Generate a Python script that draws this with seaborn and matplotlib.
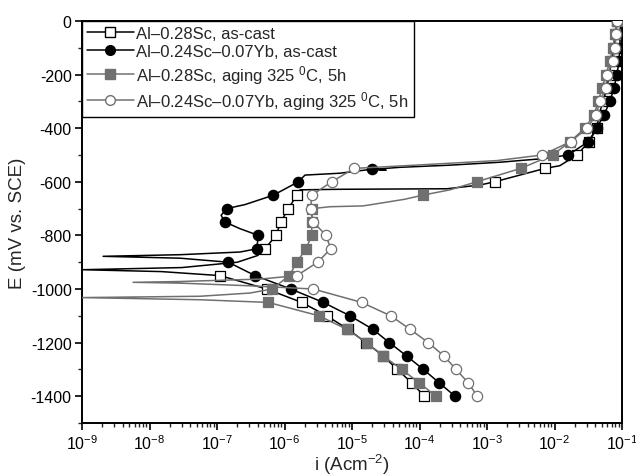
import matplotlib
matplotlib.use("Agg")
import matplotlib.pyplot as plt
from matplotlib.lines import Line2D
from matplotlib.ticker import LogLocator, MultipleLocator, NullFormatter
import pandas as pd
import seaborn as sns

# curvas de polarizacion: i (A/cm2), E (mV vs SCE), m = 1 si lleva marcador
# Al-0.28Sc, as-cast
i_s1 = [1.18e-4, 7.66e-5, 4.69e-5, 2.91e-5, 1.61e-5, 8.73e-6, 4.22e-6, 1.80e-6, 5.45e-7, 1.11e-7,
        1.5e-8, 1.0e-9, 3.0e-8, 2.0e-7, 4.0e-7, 5.14e-7, 7.48e-7, 8.79e-7, 1.14e-6, 1.52e-6,
        1.70e-6, 6.64e-6, 2.55e-4, 7.87e-4, 1.3e-3, 7.23e-3, 1.2e-2, 2.15e-2, 3.25e-2, 4.25e-2,
        4.56e-2, 5.24e-2, 6.0e-2, 6.4e-2, 7.1e-2, 7.6e-2, 8.15e-2, 8.3e-2]
E_s1 = [-1400, -1350, -1300, -1250, -1200, -1150, -1100, -1050, -1000, -950,
        -935, -928, -920, -900, -875, -850, -800, -750, -700, -650,
        -630, -628, -626, -612, -600, -550, -540, -500, -450, -400,
        -350, -300, -250, -200, -150, -100, -50, 0]
m_s1 = [1, 1, 1, 1, 1, 1, 1, 1, 1, 1,
        0, 0, 0, 0, 0, 1, 1, 1, 1, 1,
        0, 0, 0, 0, 1, 1, 0, 1, 1, 1,
        1, 1, 1, 1, 1, 1, 1, 1]

# Al-0.24Sc-0.07Yb, as-cast
i_s2 = [3.36e-4, 1.96e-4, 1.14e-4, 6.46e-5, 3.57e-5, 2.03e-5, 9.33e-6, 3.76e-6, 1.24e-6, 3.66e-7,
        1.47e-7, 2.83e-8, 2.05e-9, 2.83e-8, 2.19e-7, 3.87e-7, 4.09e-7, 2.19e-7, 1.31e-7, 1.15e-7,
        1.39e-7, 2.6e-7, 6.83e-7, 1.60e-6, 2.01e-6, 6.64e-6, 1.98e-5, 3.2e-5, 2.2e-5, 5.14e-5,
        2.83e-4, 1.56e-3, 7.23e-3, 1.60e-2, 3.17e-2, 4.22e-2, 5.41e-2, 6.64e-2, 7.6e-2, 8.43e-2,
        9.0e-2, 9.3e-2, 9.4e-2, 9.6e-2]
E_s2 = [-1400, -1350, -1300, -1250, -1200, -1150, -1100, -1050, -1000, -950,
        -900, -885, -878, -872, -862, -850, -800, -775, -750, -725,
        -700, -685, -650, -600, -575, -568, -553, -557, -553, -546,
        -538, -527, -513, -500, -450, -400, -350, -300, -250, -200,
        -150, -100, -50, 0]
m_s2 = [1, 1, 1, 1, 1, 1, 1, 1, 1, 1,
        1, 0, 0, 0, 0, 1, 1, 0, 1, 0,
        1, 0, 1, 1, 0, 0, 1, 0, 0, 0,
        0, 0, 0, 1, 1, 1, 1, 1, 1, 1,
        1, 1, 1, 1]

# Al-0.28Sc, aging 325 C, 5h
i_s3 = [1.75e-4, 9.93e-5, 5.45e-5, 2.91e-5, 1.65e-5, 8.34e-6, 3.25e-6, 5.75e-7,
        5.6e-8, 1.0e-9, 5.6e-8, 3.08e-7, 6.53e-7, 1.18e-6, 1.52e-6, 2.08e-6, 2.53e-6, 2.53e-6,
        2.57e-6, 4.72e-6, 1.46e-5, 2.6e-5, 6.1e-5, 1.11e-4, 2.83e-4, 7.03e-4, 3.16e-3, 9.40e-3,
        1.70e-2, 2.83e-2, 3.85e-2, 4.46e-2, 5.06e-2, 5.8e-2, 6.64e-2, 7.3e-2, 7.84e-2, 8.3e-2]
E_s3 = [-1400, -1350, -1300, -1250, -1200, -1150, -1100, -1050,
        -1040, -1032, -1027, -1015, -1000, -950, -900, -850, -800, -750,
        -700, -693, -690, -680, -665, -650, -630, -600, -550, -500,
        -450, -400, -350, -300, -250, -200, -150, -100, -50, 0]
m_s3 = [1, 1, 1, 1, 1, 1, 1, 1,
        0, 0, 0, 0, 1, 1, 1, 1, 1, 1,
        1, 0, 0, 0, 0, 1, 0, 1, 1, 1,
        1, 1, 1, 1, 1, 1, 1, 1, 1, 1]

# Al-0.24Sc-0.07Yb, aging 325 C, 5h
i_s4 = [7.18e-4, 5.28e-4, 3.48e-4, 2.31e-4, 1.35e-4, 7.23e-5, 3.74e-5, 1.39e-5, 2.67e-6,
        3.08e-7, 2.83e-8, 5.70e-9, 2.83e-8, 4.34e-7, 1.52e-6, 3.10e-6, 4.83e-6, 4.12e-6, 2.67e-6,
        2.44e-6, 2.53e-6, 5.0e-6, 1.08e-5, 2.6e-5, 1.02e-4, 1.39e-3, 6.59e-3, 1.74e-2, 3.06e-2,
        4.12e-2, 4.72e-2, 5.79e-2, 6.05e-2, 7.28e-2, 7.87e-2, 8.15e-2, 8.51e-2]
E_s4 = [-1400, -1350, -1300, -1250, -1200, -1150, -1100, -1050, -1000,
        -988, -978, -975, -972, -963, -950, -900, -850, -800, -750,
        -700, -650, -600, -550, -545, -537, -521, -500, -450, -400,
        -350, -300, -250, -200, -150, -100, -50, 0]
m_s4 = [1, 1, 1, 1, 1, 1, 1, 1, 1,
        0, 0, 0, 0, 0, 1, 1, 1, 1, 1,
        1, 1, 1, 1, 0, 0, 0, 1, 1, 1,
        1, 1, 1, 1, 1, 1, 1, 1]

etiquetas = ["Al\u20130.28Sc, as-cast",
             "Al\u20130.24Sc\u20130.07Yb, as-cast",
             "Al\u20130.28Sc, aging 325 $^{0}$C, 5h",
             "Al\u20130.24Sc\u20130.07Yb, aging 325 $^{0}$C, 5h"]

gris = "#707070"
estilos = [
    dict(color="black", marker="s", face="white", s=42),
    dict(color="black", marker="o", face="black", s=55),
    dict(color=gris, marker="s", face=gris, s=42),
    dict(color=gris, marker="o", face="white", s=55),
]

sns.set_theme(style="ticks")
plt.rcParams["font.family"] = ["Liberation Sans", "DejaVu Sans"]
plt.rcParams["mathtext.fontset"] = "custom"
plt.rcParams["mathtext.rm"] = "Liberation Sans"
plt.rcParams["mathtext.default"] = "regular"
plt.rcParams["axes.unicode_minus"] = False

fig, ax = plt.subplots(figsize=(6.36, 4.77), dpi=100)
fig.subplots_adjust(left=0.129, right=0.978, top=0.954, bottom=0.111)

series = [(i_s1, E_s1, m_s1), (i_s2, E_s2, m_s2), (i_s3, E_s3, m_s3), (i_s4, E_s4, m_s4)]
for k, ((xi, ye, mk), st) in enumerate(zip(series, estilos)):
    df = pd.DataFrame({"i": xi, "E": ye, "m": mk})
    sns.lineplot(data=df, x="i", y="E", sort=False, estimator=None, color=st["color"],
                 linewidth=1.1, ax=ax, zorder=2 + k)
    sns.scatterplot(data=df[df["m"] == 1], x="i", y="E", marker=st["marker"], s=st["s"],
                    facecolor=st["face"], edgecolor=st["color"], linewidth=0.9, ax=ax,
                    zorder=3 + k)

ax.set_xscale("log")
ax.set_xlim(1e-9, 1e-1)
ax.set_ylim(-1500, 0)
ax.yaxis.set_major_locator(MultipleLocator(200))
ax.yaxis.set_minor_locator(MultipleLocator(100))
ax.set_yticks([0, -200, -400, -600, -800, -1000, -1200, -1400])
ax.xaxis.set_major_locator(LogLocator(base=10, numticks=20))
ax.xaxis.set_minor_locator(LogLocator(base=10, subs=range(2, 10), numticks=20))
ax.xaxis.set_minor_formatter(NullFormatter())

ax.tick_params(which="major", direction="out", length=5, width=1.2, labelsize=11.5,
               pad=2.5, top=False, right=False, colors="black")
ax.tick_params(which="minor", direction="out", length=3, width=1.0, top=False, right=False)
for sp in ax.spines.values():
    sp.set_visible(True)
    sp.set_linewidth(1.4)
    sp.set_color("black")

ax.set_xlabel("i (Acm$^{-2}$)", fontsize=13.5, labelpad=0)
ax.set_ylabel("E (mV vs. SCE)", fontsize=13.5, labelpad=3)

handles = [Line2D([0], [0], color=st["color"], linewidth=1.1, marker=st["marker"],
                  markerfacecolor=st["face"], markeredgecolor=st["color"],
                  markersize=7 if st["marker"] == "o" else 6.5)
           for st in estilos]
leg = ax.legend(handles, etiquetas, loc="upper left", fontsize=12, frameon=True,
                fancybox=False, edgecolor="black", borderaxespad=0, borderpad=0.3,
                handlelength=2.8, handletextpad=0.15, labelspacing=0.2)
leg.get_frame().set_linewidth(1.0)
leg.get_frame().set_alpha(1)

plt.savefig("out.png", dpi=100)
